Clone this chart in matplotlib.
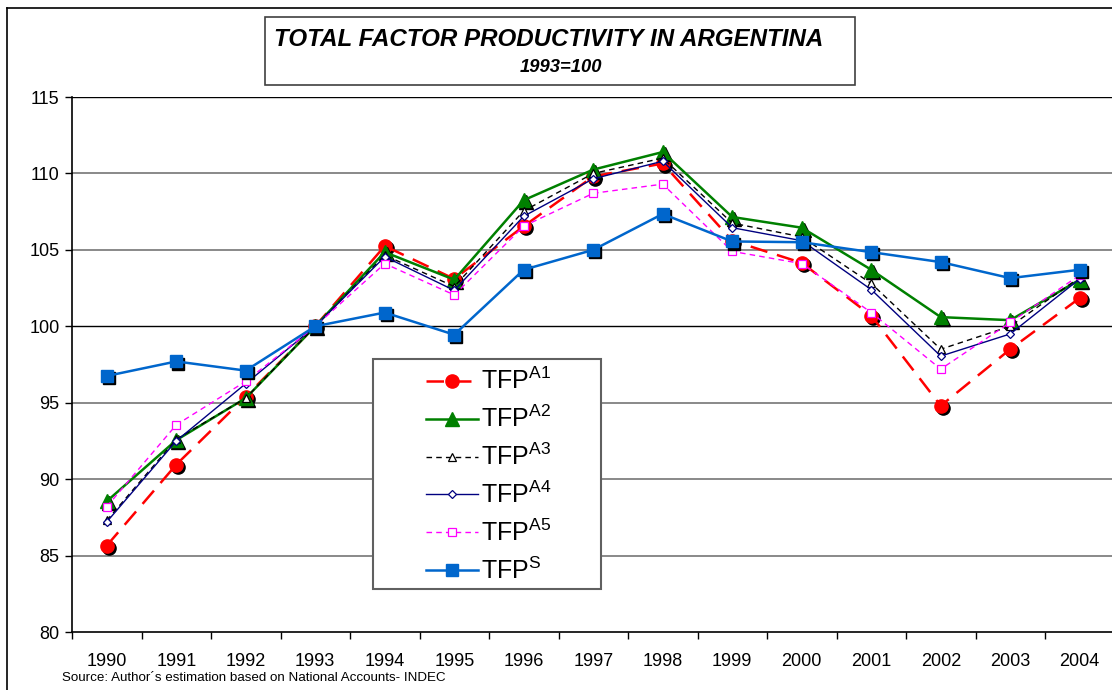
import numpy as np
import matplotlib
matplotlib.use("Agg")
import matplotlib.pyplot as plt
from matplotlib.patches import Rectangle
from matplotlib.lines import Line2D
import matplotlib.transforms as mtransforms

plt.rcParams['font.family'] = ['Liberation Sans', 'DejaVu Sans']
plt.rcParams['mathtext.fontset'] = 'custom'
plt.rcParams['mathtext.rm'] = 'Liberation Sans'
plt.rcParams['mathtext.default'] = 'regular'

# data (1993 = 100)
years = ['1990', '1991', '1992', '1993', '1994', '1995', '1996', '1997',
         '1998', '1999', '2000', '2001', '2002', '2003', '2004']
tfp_a1 = [85.65, 90.95, 95.4, 100.0, 105.25, 103.1, 106.55, 109.8,
          110.65, 105.6, 104.15, 100.7, 94.8, 98.5, 101.85]
tfp_a2 = [88.55, 92.55, 95.3, 100.0, 104.85, 103.05, 108.25, 110.25,
          111.4, 107.15, 106.45, 103.7, 100.6, 100.4, 103.05]
tfp_a3 = [87.3, 92.6, 95.3, 100.0, 104.65, 102.6, 107.55, 110.0,
          111.0, 106.75, 105.85, 102.8, 98.5, 100.0, 103.2]
tfp_a4 = [87.2, 92.5, 96.25, 100.0, 104.55, 102.35, 107.2, 109.65,
          110.8, 106.45, 105.6, 102.4, 98.05, 99.5, 103.1]
tfp_a5 = [88.2, 93.55, 96.4, 100.0, 104.1, 102.05, 106.55, 108.7,
          109.3, 104.9, 104.1, 100.9, 97.2, 100.25, 103.35]
tfp_s = [96.75, 97.7, 97.1, 100.0, 100.9, 99.45, 103.7, 105.0,
         107.35, 105.55, 105.5, 104.85, 104.2, 103.15, 103.7]

W, H = 1112, 690
fig = plt.figure(figsize=(W / 100, H / 100), dpi=100)

# axes box in pixels
x0, x1, y0, y1 = 72, 1114.5, 97, 632
ax = fig.add_axes([x0 / W, 1 - y1 / H, (x1 - x0) / W, (y1 - y0) / H])
x = np.arange(len(years))

def shadow(tr):
    return mtransforms.offset_copy(tr, fig=fig, x=1.5, y=-1.5, units='points')

series = [
    (tfp_a1, dict(color='#FF0000', lw=1.8, dashes=(7, 4), marker='o', ms=9.5,
                  mfc='#FF0000', mec='#FF0000'), True),
    (tfp_a2, dict(color='#008000', lw=1.8, ls='-', marker='^', ms=10,
                  mfc='#008000', mec='#008000'), True),
    (tfp_a3, dict(color='black', lw=1.0, dashes=(4, 3), marker='^', ms=6,
                  mfc='white', mec='black', mew=0.9), False),
    (tfp_a4, dict(color='#000080', lw=1.0, ls='-', marker='D', ms=4.5,
                  mfc='white', mec='#000080', mew=0.9), False),
    (tfp_a5, dict(color='#FF00FF', lw=1.0, dashes=(4, 3), marker='s', ms=6,
                  mfc='white', mec='#FF00FF', mew=0.9), False),
    (tfp_s, dict(color='#0066CC', lw=1.8, ls='-', marker='s', ms=9,
                 mfc='#0066CC', mec='#0066CC'), True),
]

handles = []
for i, (vals, st, has_shadow) in enumerate(series):
    z = 3 + i
    if has_shadow:
        ax.plot(x, vals, ls='none', marker=st['marker'], ms=st['ms'],
                mfc='black', mec='black', transform=shadow(ax.transData),
                zorder=z - 0.5)
    ln, = ax.plot(x, vals, zorder=z, **st)
    handles.append(ln)

ax.set_xlim(-0.5, 14.5)
ax.set_ylim(80, 115)
ax.set_yticks(np.arange(80, 116, 5))
ax.set_yticklabels([str(v) for v in range(80, 116, 5)], fontsize=13)
ax.set_xticks(x)
ax.set_xticklabels(years, fontsize=13)
ax.set_xticks(np.arange(-0.5, 15, 1), minor=True)
ax.tick_params(axis='x', which='major', length=0, pad=15)
ax.tick_params(axis='x', which='minor', length=5, direction='out', width=1)
ax.tick_params(axis='y', length=5, direction='out', width=1, pad=4)

for v in [85, 90, 95, 105, 110]:
    ax.axhline(v, color='#808080', lw=1.3, zorder=1)
for v in [100, 115]:
    ax.axhline(v, color='black', lw=1.0, zorder=1)

for s in ['top', 'right']:
    ax.spines[s].set_visible(False)
ax.spines['left'].set_linewidth(1.2)
ax.spines['bottom'].set_linewidth(1.2)

# outer chart frame
fig.add_artist(Line2D([7 / W, 7 / W], [0, 1 - 8 / H], color='black', lw=1.2))
fig.add_artist(Line2D([7 / W, 1], [1 - 8 / H, 1 - 8 / H], color='black', lw=1.2))

# title box
fig.add_artist(Rectangle((265 / W, 1 - 85 / H), 590 / W, 68 / H,
                         transform=fig.transFigure, fill=False,
                         edgecolor='#404040', lw=1.2))
fig.text(549 / W, 1 - 39 / H, 'TOTAL FACTOR PRODUCTIVITY IN ARGENTINA',
         ha='center', va='center', fontsize=17.4, fontweight='bold',
         fontstyle='italic')
fig.text(561 / W, 1 - 67 / H, '1993=100', ha='center', va='center',
         fontsize=13.2, fontweight='bold', fontstyle='italic')

# legend box
fig.add_artist(Rectangle((373 / W, 1 - 589 / H), 228 / W, 230 / H,
                         transform=fig.transFigure, facecolor='white',
                         edgecolor='#606060', lw=1.5, zorder=10))
labels = ['TFP$^{A1}$', 'TFP$^{A2}$', 'TFP$^{A3}$', 'TFP$^{A4}$',
          'TFP$^{A5}$', 'TFP$^{S}$']
leg = fig.legend(handles, labels, loc='center',
                 bbox_to_anchor=(489 / W, 1 - 476 / H), frameon=False,
                 fontsize=18, handlelength=2.05, handletextpad=0.15,
                 labelspacing=0.46, borderpad=0)
leg.set_zorder(11)

fig.text(62 / W, 1 - 678 / H,
         'Source: Author\u00b4s estimation based on National Accounts- INDEC',
         ha='left', va='center', fontsize=9.6)

fig.savefig('out.png', dpi=100)
